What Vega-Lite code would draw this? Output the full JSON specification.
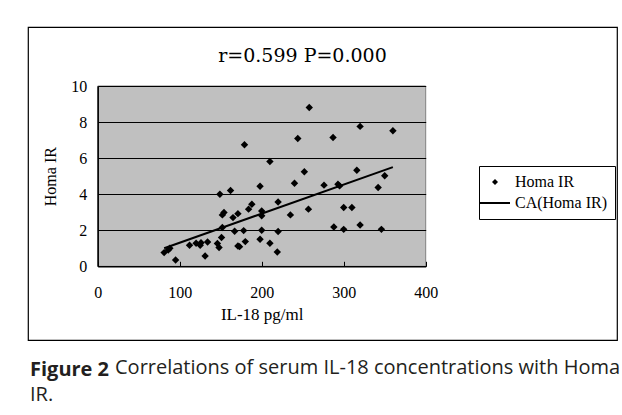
{
  "$schema": "https://vega.github.io/schema/vega-lite/v6.json",
  "padding": {"left": 27, "top": 26, "right": 5, "bottom": 5},
  "background": "white",
  "title": {
    "text": "Figure 2",
    "subtitle": "IR.",
    "orient": "bottom",
    "anchor": "start",
    "frame": "group",
    "offset": -18,
    "dx": 2,
    "baseline": "top",
    "font": "Open Sans",
    "fontSize": 20,
    "fontWeight": "bold",
    "color": "#231f20",
    "subtitleFont": "Open Sans",
    "subtitleFontSize": 20,
    "subtitleFontWeight": "normal",
    "subtitleColor": "#231f20",
    "subtitlePadding": 5
  },
  "config": {
    "view": {"stroke": "black", "strokeWidth": 1.2}
  },
  "vconcat": [
    {
      "title": {
        "text": "Correlations of serum IL-18 concentrations with Homa",
        "orient": "bottom",
        "anchor": "start",
        "frame": "group",
        "offset": 17,
        "dx": 87,
        "baseline": "top",
        "font": "Open Sans",
        "fontSize": 20,
        "fontWeight": "normal",
        "color": "#231f20"
      },
      "vconcat": [
        {
          "width": 589,
          "height": 313,
          "title": {
            "text": "r=0.599 P=0.000",
            "orient": "top",
            "anchor": "middle",
            "frame": "group",
            "offset": -48,
            "dx": -20,
            "baseline": "middle",
            "font": "DejaVu Serif",
            "fontSize": 19,
            "fontWeight": "normal",
            "color": "black"
          },
          "layer": [
            {
              "data": {"values": [{}]},
              "mark": {"type": "rect", "fill": "#c0c0c0", "stroke": "#808080", "strokeWidth": 1},
              "encoding": {
                "x": {"datum": 0, "type": "quantitative", "title": "IL-18 pg/ml", "scale": {"domain": [0, 400], "range": [69.7, 397.7], "nice": false, "zero": false}},
                "x2": {"datum": 400},
                "y": {"datum": 0, "type": "quantitative", "title": "Homa IR", "scale": {"domain": [0, 10], "range": [239.3, 59], "nice": false}},
                "y2": {"datum": 10}
              }
            },
            {
              "data": {"values": [
                {"IL18": 81, "HomaIR": 0.76, "series": "Homa IR"},
                {"IL18": 86, "HomaIR": 0.9, "series": "Homa IR"},
                {"IL18": 88, "HomaIR": 1.0, "series": "Homa IR"},
                {"IL18": 95, "HomaIR": 0.35, "series": "Homa IR"},
                {"IL18": 112, "HomaIR": 1.17, "series": "Homa IR"},
                {"IL18": 120, "HomaIR": 1.28, "series": "Homa IR"},
                {"IL18": 125, "HomaIR": 1.17, "series": "Homa IR"},
                {"IL18": 126, "HomaIR": 1.31, "series": "Homa IR"},
                {"IL18": 131, "HomaIR": 0.57, "series": "Homa IR"},
                {"IL18": 134, "HomaIR": 1.35, "series": "Homa IR"},
                {"IL18": 146, "HomaIR": 1.26, "series": "Homa IR"},
                {"IL18": 148, "HomaIR": 1.04, "series": "Homa IR"},
                {"IL18": 149, "HomaIR": 4.0, "series": "Homa IR"},
                {"IL18": 151, "HomaIR": 1.6, "series": "Homa IR"},
                {"IL18": 152, "HomaIR": 2.15, "series": "Homa IR"},
                {"IL18": 152, "HomaIR": 2.85, "series": "Homa IR"},
                {"IL18": 154, "HomaIR": 2.98, "series": "Homa IR"},
                {"IL18": 162, "HomaIR": 4.2, "series": "Homa IR"},
                {"IL18": 165, "HomaIR": 2.7, "series": "Homa IR"},
                {"IL18": 167, "HomaIR": 1.94, "series": "Homa IR"},
                {"IL18": 171, "HomaIR": 2.92, "series": "Homa IR"},
                {"IL18": 171, "HomaIR": 1.13, "series": "Homa IR"},
                {"IL18": 173, "HomaIR": 1.09, "series": "Homa IR"},
                {"IL18": 179, "HomaIR": 6.74, "series": "Homa IR"},
                {"IL18": 178, "HomaIR": 1.98, "series": "Homa IR"},
                {"IL18": 180, "HomaIR": 1.37, "series": "Homa IR"},
                {"IL18": 184, "HomaIR": 3.17, "series": "Homa IR"},
                {"IL18": 188, "HomaIR": 3.44, "series": "Homa IR"},
                {"IL18": 198, "HomaIR": 4.44, "series": "Homa IR"},
                {"IL18": 200, "HomaIR": 3.07, "series": "Homa IR"},
                {"IL18": 200, "HomaIR": 2.8, "series": "Homa IR"},
                {"IL18": 200, "HomaIR": 2.0, "series": "Homa IR"},
                {"IL18": 198, "HomaIR": 1.5, "series": "Homa IR"},
                {"IL18": 210, "HomaIR": 5.81, "series": "Homa IR"},
                {"IL18": 210, "HomaIR": 1.28, "series": "Homa IR"},
                {"IL18": 219, "HomaIR": 0.79, "series": "Homa IR"},
                {"IL18": 220, "HomaIR": 3.57, "series": "Homa IR"},
                {"IL18": 220, "HomaIR": 1.93, "series": "Homa IR"},
                {"IL18": 235, "HomaIR": 2.85, "series": "Homa IR"},
                {"IL18": 240, "HomaIR": 4.61, "series": "Homa IR"},
                {"IL18": 244, "HomaIR": 7.09, "series": "Homa IR"},
                {"IL18": 252, "HomaIR": 5.24, "series": "Homa IR"},
                {"IL18": 257, "HomaIR": 3.17, "series": "Homa IR"},
                {"IL18": 258, "HomaIR": 8.81, "series": "Homa IR"},
                {"IL18": 276, "HomaIR": 4.5, "series": "Homa IR"},
                {"IL18": 287, "HomaIR": 7.14, "series": "Homa IR"},
                {"IL18": 288, "HomaIR": 2.18, "series": "Homa IR"},
                {"IL18": 293, "HomaIR": 4.55, "series": "Homa IR"},
                {"IL18": 295, "HomaIR": 4.46, "series": "Homa IR"},
                {"IL18": 300, "HomaIR": 3.26, "series": "Homa IR"},
                {"IL18": 300, "HomaIR": 2.05, "series": "Homa IR"},
                {"IL18": 310, "HomaIR": 3.26, "series": "Homa IR"},
                {"IL18": 316, "HomaIR": 5.33, "series": "Homa IR"},
                {"IL18": 320, "HomaIR": 7.76, "series": "Homa IR"},
                {"IL18": 320, "HomaIR": 2.29, "series": "Homa IR"},
                {"IL18": 342, "HomaIR": 4.37, "series": "Homa IR"},
                {"IL18": 346, "HomaIR": 2.05, "series": "Homa IR"},
                {"IL18": 350, "HomaIR": 5.02, "series": "Homa IR"},
                {"IL18": 360, "HomaIR": 7.52, "series": "Homa IR"}
              ]},
              "mark": {"type": "point", "filled": true, "color": "black", "size": 55, "opacity": 1},
              "encoding": {
                "x": {
                  "field": "IL18", "type": "quantitative", "title": "IL-18 pg/ml",
                  "scale": {"domain": [0, 400], "range": [69.7, 397.7], "nice": false, "zero": false},
                  "axis": {
                    "values": [0, 100, 200, 300, 400],
                    "grid": false,
                    "offset": -73.7,
                    "zindex": 1,
                    "domainColor": "black",
                    "domainWidth": 1.5,
                    "tickColor": "black",
                    "tickSize": -5,
                    "tickWidth": 1,
                    "labelPadding": 23,
                    "labelFlush": false,
                    "labelFont": "Liberation Serif",
                    "labelFontSize": 16,
                    "labelColor": "black",
                    "titleFont": "Liberation Serif",
                    "titleFontSize": 17,
                    "titleFontWeight": "normal",
                    "titleColor": "black",
                    "titlePadding": 6
                  }
                },
                "y": {
                  "field": "HomaIR", "type": "quantitative", "title": "Homa IR",
                  "scale": {"domain": [0, 10], "range": [239.3, 59], "nice": false},
                  "axis": {
                    "values": [0, 2, 4, 6, 8, 10],
                    "grid": true,
                    "gridColor": "black",
                    "gridOpacity": 1,
                    "gridWidth": 1,
                    "offset": -69.7,
                    "zindex": 1,
                    "domainColor": "black",
                    "domainWidth": 1.5,
                    "ticks": false,
                    "labelPadding": 11,
                    "labelFont": "Liberation Serif",
                    "labelFontSize": 16,
                    "labelColor": "black",
                    "titleFont": "Liberation Serif",
                    "titleFontSize": 16,
                    "titleFontWeight": "normal",
                    "titleColor": "black",
                    "titlePadding": 12
                  }
                },
                "shape": {
                  "field": "series", "type": "nominal",
                  "scale": {"domain": ["Homa IR", "CA(Homa IR)"], "range": ["diamond", "M-5,-0.33H5V0.33H-5Z"]},
                  "legend": {
                    "title": null,
                    "orient": "none",
                    "legendX": 451,
                    "legendY": 139,
                    "strokeColor": "black",
                    "fillColor": "white",
                    "padding": 8,
                    "rowPadding": 5,
                    "symbolSize": 36,
                    "symbolOffset": 0,
                    "symbolFillColor": "black",
                    "symbolStrokeWidth": 0,
                    "labelOffset": 12,
                    "labelFont": "Liberation Serif",
                    "labelFontSize": 16,
                    "labelColor": "black"
                  }
                }
              }
            },
            {
              "data": {"values": [
                {"IL18": 81, "HomaIR": 1.0},
                {"IL18": 360, "HomaIR": 5.5}
              ]},
              "mark": {"type": "line", "color": "black", "strokeWidth": 2},
              "encoding": {
                "x": {"field": "IL18", "type": "quantitative", "title": "IL-18 pg/ml"},
                "y": {"field": "HomaIR", "type": "quantitative", "title": "Homa IR"}
              }
            }
          ]
        }
      ]
    }
  ]
}
